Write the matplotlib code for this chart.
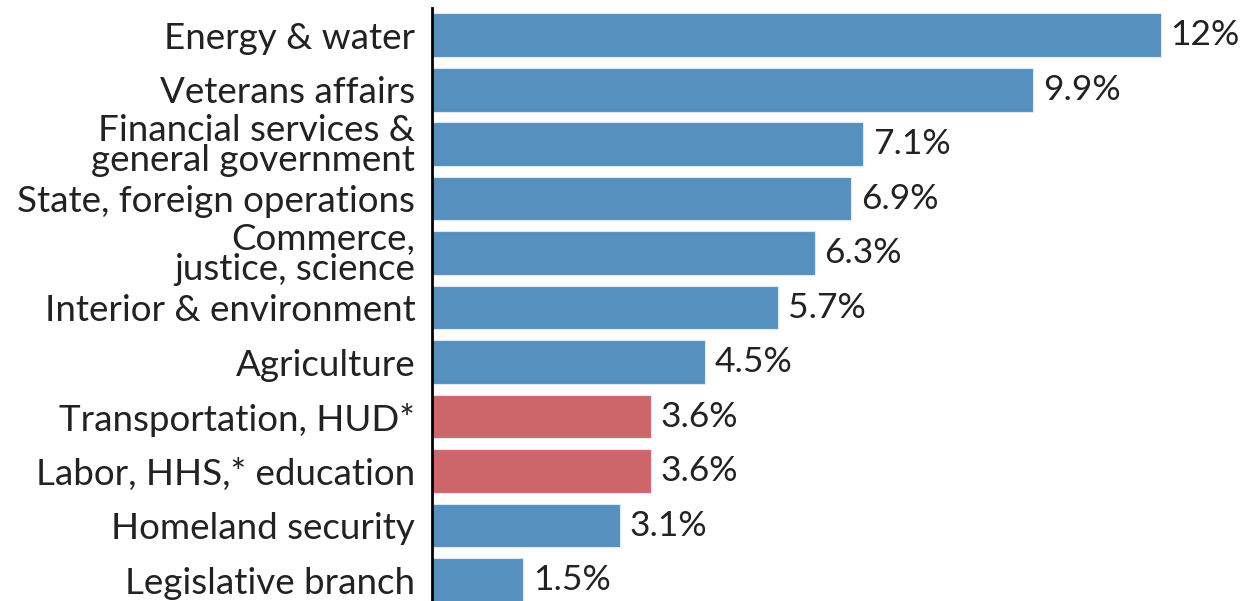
import matplotlib
matplotlib.use("Agg")
import matplotlib.pyplot as plt

plt.rcParams['font.family'] = ['Lato', 'DejaVu Sans']

categories = [
    "Energy & water",
    "Veterans affairs",
    "Financial services &\ngeneral government",
    "State, foreign operations",
    "Commerce,\njustice, science",
    "Interior & environment",
    "Agriculture",
    "Transportation, HUD*",
    "Labor, HHS,* education",
    "Homeland security",
    "Legislative branch",
]
values = [12, 9.9, 7.1, 6.9, 6.3, 5.7, 4.5, 3.6, 3.6, 3.1, 1.5]
labels = ["12%", "9.9%", "7.1%", "6.9%", "6.3%", "5.7%", "4.5%",
          "3.6%", "3.6%", "3.1%", "1.5%"]
highlight = [False, False, False, False, False, False, False,
             True, True, False, False]

blue = "#5590bf"
red = "#cc666a"
colors = [red if h else blue for h in highlight]

fig = plt.figure(figsize=(12.41, 6.01), dpi=100)
ax = fig.add_axes([432 / 1241, 0, 809 / 1241, 593 / 601])

y = range(len(values))
ax.barh(y, values, height=0.8, color=colors, edgecolor="#dde8f0", linewidth=0.8)
ax.set_ylim(10.385, -0.5)
ax.set_xlim(0, 13.32)

for i, (v, t) in enumerate(zip(values, labels)):
    ax.text(v + 0.16, i, t, va="center", ha="left", fontsize=25.5, color="#222222")

ax.set_yticks(list(y))
ax.set_yticklabels(categories, fontsize=26.5, color="#222222", linespacing=0.88)
ax.tick_params(axis="y", length=0, pad=12)
ax.set_xticks([])
for s in ["top", "right", "bottom"]:
    ax.spines[s].set_visible(False)
ax.spines["left"].set_linewidth(2)
ax.spines["left"].set_color("black")

fig.savefig("out.png", dpi=100)
